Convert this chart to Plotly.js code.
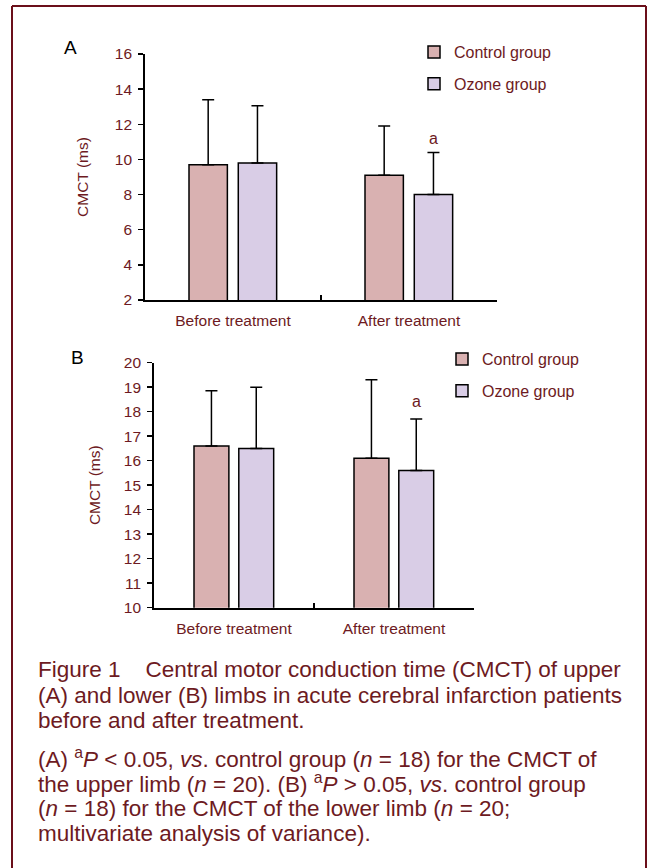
<!DOCTYPE html>
<html>
<head>
<meta charset="utf-8">
<script src="https://cdn.plot.ly/plotly-3.0.1.min.js"></script>
<style>html,body{margin:0;padding:0;background:#fff;}#chart{width:647px;height:868px;}</style>
</head>
<body>
<div id="chart"></div>
<script>
// ---------- data ----------
const categories = ["Before treatment", "After treatment"];
const seriesNames = ["Control group", "Ozone group"];
// Panel A: upper limb CMCT (ms), mean and SD
const upperControl = [9.7, 9.1];
const upperControlSD = [3.7, 2.8];
const upperOzone = [9.8, 8.0];
const upperOzoneSD = [3.25, 2.4];
// Panel B: lower limb CMCT (ms), mean and SD
const lowerControl = [16.6, 16.1];
const lowerControlSD = [2.25, 3.2];
const lowerOzone = [16.5, 15.6];
const lowerOzoneSD = [2.5, 2.1];
const yTicksA = [2, 4, 6, 8, 10, 12, 14, 16];
const yTicksB = [10, 11, 12, 13, 14, 15, 16, 17, 18, 19, 20];
const sigLabel = "a";
const sigA = 11.2;   // y of "a" mark, panel A
const sigB = 18.4;   // y of "a" mark, panel B
const yAxisTitle = "CMCT (ms)";
const panelLabels = ["A", "B"];
const captionLines = [
  "Figure 1\u00a0\u00a0\u00a0\u00a0Central motor conduction time (CMCT) of upper",
  "(A) and lower (B) limbs in acute cerebral infarction patients",
  "before and after treatment."
];
const noteLines = [
  "(A) <sup>a</sup><i>P</i> &lt; 0.05, <i>vs</i>. control group (<i>n</i> = 18) for the CMCT of",
  "the upper limb (<i>n</i> = 20). (B) <sup>a</sup><i>P</i> &gt; 0.05, <i>vs</i>. control group",
  "(<i>n</i> = 18) for the CMCT of the lower limb (<i>n</i> = 20;",
  "multivariate analysis of variance)."
];

// ---------- style ----------
const W = 647, H = 868;
const px = v => v / W;
const py = v => 1 - v / H;
const RED = "#6d1a22";
const BORDER = "#6b0f1a";
const FONT = "Liberation Sans, Arial, sans-serif";
const colControl = "#d9b1b1";
const colOzone = "#d9cde6";
const barW = 0.218;
const offC = -0.25, offO = 0.03;

function barTrace(name, y, sd, color, xa, ya, legend, group) {
  return {
    type: "bar", name: name, x: categories, y: y,
    xaxis: xa, yaxis: ya, legend: legend, legendgroup: group,
    width: barW, offset: name === seriesNames[0] ? offC : offO,
    marker: {color: color, line: {color: "#000", width: 1.5}},
    error_y: {type: "data", array: sd, arrayminus: sd.map(() => 0), symmetric: false,
              color: "#000", thickness: 1.5, width: 6},
    hoverinfo: "skip"
  };
}

const data = [
  barTrace(seriesNames[0], upperControl, upperControlSD, colControl, "x", "y", "legend", "a1"),
  barTrace(seriesNames[1], upperOzone, upperOzoneSD, colOzone, "x", "y", "legend", "a2"),
  barTrace(seriesNames[0], lowerControl, lowerControlSD, colControl, "x2", "y2", "legend2", "b1"),
  barTrace(seriesNames[1], lowerOzone, lowerOzoneSD, colOzone, "x2", "y2", "legend2", "b2")
];

function xAxis(domain, anchor) {
  return {
    domain: domain, anchor: anchor, type: "category",
    range: [-0.5, 1.5], fixedrange: true,
    showline: true, linecolor: "#000", linewidth: 1.8,
    ticks: "inside", tickson: "boundaries", ticklen: 5, tickwidth: 1.5, tickcolor: "#000",
    tickfont: {family: FONT, size: 15.5, color: RED},
    ticklabelstandoff: 6,
    showgrid: false, zeroline: false
  };
}
function yAxis(domain, anchor, range, tickvals, standoff) {
  return {
    domain: domain, anchor: anchor, range: range, fixedrange: true,
    tickmode: "array", tickvals: tickvals,
    showline: true, linecolor: "#000", linewidth: 1.8,
    ticks: "outside", ticklen: 5, tickwidth: 1.5, tickcolor: "#000",
    tickfont: {family: FONT, size: 15.5, color: RED},
    ticklabelstandoff: 3,
    showgrid: false, zeroline: false,
    title: {text: yAxisTitle, font: {family: FONT, size: 15.5, color: RED}, standoff: standoff}
  };
}

const annotations = [];
annotations.push({xref: "x", yref: "y", x: 1 + offO + barW / 2, y: sigA, text: sigLabel,
  showarrow: false, font: {family: FONT, size: 16, color: RED}});
annotations.push({xref: "x2", yref: "y2", x: 1 + offO + barW / 2, y: sigB, text: sigLabel,
  showarrow: false, font: {family: FONT, size: 16, color: RED}});
annotations.push({xref: "paper", yref: "paper", x: px(70), y: py(47), text: panelLabels[0],
  showarrow: false, xanchor: "center", yanchor: "middle", font: {family: FONT, size: 19, color: "#000"}});
annotations.push({xref: "paper", yref: "paper", x: px(77), y: py(357), text: panelLabels[1],
  showarrow: false, xanchor: "center", yanchor: "middle", font: {family: FONT, size: 19, color: "#000"}});
const capY = [669, 695, 720];
captionLines.forEach((t, i) => annotations.push({xref: "paper", yref: "paper", x: px(36), y: py(capY[i]),
  text: t, showarrow: false, xanchor: "left", yanchor: "middle", align: "left",
  font: {family: FONT, size: 22.5, color: RED}}));
const noteY = [758, 783, 808, 833];
noteLines.forEach((t, i) => annotations.push({xref: "paper", yref: "paper", x: px(36), y: py(noteY[i]),
  text: t, showarrow: false, xanchor: "left", yanchor: "middle", align: "left",
  font: {family: FONT, size: 22.5, color: RED}}));

const shapes = [
  {type: "line", xref: "paper", yref: "paper", x0: px(12), x1: px(646), y0: py(6), y1: py(6), line: {color: BORDER, width: 2}},
  {type: "line", xref: "paper", yref: "paper", x0: px(12), x1: px(12), y0: py(6), y1: py(900), line: {color: BORDER, width: 2}},
  {type: "line", xref: "paper", yref: "paper", x0: px(646), x1: px(646), y0: py(6), y1: py(900), line: {color: BORDER, width: 2}}
];

const legendStyle = (x, y) => ({
  x: x, y: y, xanchor: "left", yanchor: "top", bgcolor: "rgba(0,0,0,0)",
  font: {family: FONT, size: 16, color: RED}, tracegroupgap: 8, traceorder: "grouped",
  itemclick: false, itemdoubleclick: false
});

const layout = {
  width: W, height: H,
  margin: {l: 0, r: 0, t: 0, b: 0},
  paper_bgcolor: "#fff", plot_bgcolor: "rgba(0,0,0,0)",
  font: {family: FONT, color: RED},
  barmode: "overlay",
  xaxis: xAxis([px(145), px(497)], "y"),
  yaxis: yAxis([py(300), py(54)], "x", [2, 16], yTicksA, 22),
  xaxis2: xAxis([px(154), px(474)], "y2"),
  yaxis2: yAxis([py(607.7), py(362.7)], "x2", [10, 20], yTicksB, 19),
  legend: legendStyle(px(414), py(35)),
  legend2: legendStyle(px(442), py(342)),
  annotations: annotations,
  shapes: shapes
};

Plotly.newPlot("chart", data, layout, {displayModeBar: false, staticPlot: true});
</script>
</body>
</html>
